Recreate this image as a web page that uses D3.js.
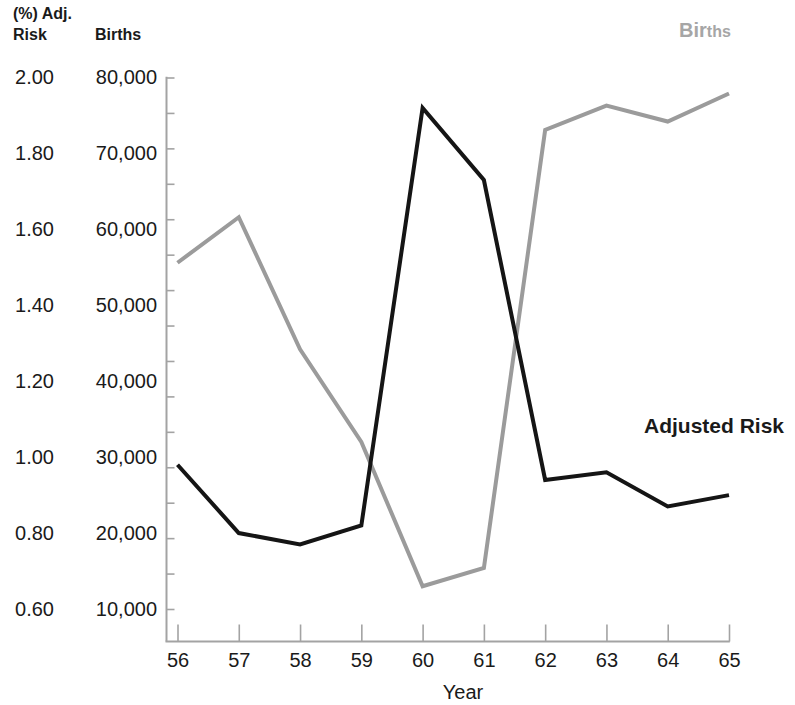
<!DOCTYPE html>
<html>
<head>
<meta charset="utf-8">
<script src="https://cdn.jsdelivr.net/npm/d3@7"></script>
<style>
  html, body { margin: 0; padding: 0; background: #fff; }
  svg { display: block; font-family: "Liberation Sans", Arial, Helvetica, sans-serif; }
</style>
</head>
<body>
<svg id="chart" width="795" height="705"></svg>
<script>
// Years on the x axis (19xx)
const years = [56, 57, 58, 59, 60, 61, 62, 63, 64, 65];
// Number of births per year
const births = [55600, 61600, 44200, 32000, 13000, 15400, 73100, 76300, 74200, 77900];
// Adjusted risk (%) per year
const adjRisk = [0.98, 0.80, 0.77, 0.82, 1.92, 1.73, 0.94, 0.96, 0.87, 0.90];
// Labelled values of the two left-hand scales
const birthTicks = [10000, 20000, 30000, 40000, 50000, 60000, 70000, 80000];
const riskTicks = [0.60, 0.80, 1.00, 1.20, 1.40, 1.60, 1.80, 2.00];

const svg = d3.select("#chart");
const axisColor = "#a3a3a3";
const greyLine = "#9b9b9b";
const blackLine = "#151515";

const axisX = 166.5, axisTop = 77.5, axisBottom = 641.5, axisRight = 729;

const x = d3.scaleLinear().domain([56, 65]).range([177.5, 729]);
const yBirths = d3.scaleLinear().domain([10000, 80000]).range([609, 77.5]);
const yRisk = d3.scaleLinear().domain([0.60, 2.00]).range([609, 77.5]);

// Vertical axis line with inward tick marks (15 equal steps)
const tickMarks = d3.range(16).map(i => 10000 + i * 70000 / 15);
const yMarks = svg.append("g").attr("transform", `translate(${axisX},0)`)
  .call(d3.axisRight(yBirths).tickValues(tickMarks).tickSize(8).tickFormat(""));
yMarks.select(".domain").remove();
yMarks.selectAll(".tick line").attr("stroke", axisColor).attr("stroke-width", 1.6);
svg.append("line")
  .attr("x1", axisX).attr("x2", axisX)
  .attr("y1", axisTop - 0.8).attr("y2", axisBottom)
  .attr("stroke", axisColor).attr("stroke-width", 2);

// Births tick labels
const bAxis = svg.append("g").attr("transform", "translate(157,0)")
  .call(d3.axisLeft(yBirths).tickValues(birthTicks).tickSize(0).tickPadding(0)
    .tickFormat(d3.format(",")));
bAxis.select(".domain").remove();
bAxis.selectAll("text").attr("font-size", 20).attr("fill", "#1a1a1a")
  .attr("font-family", "Liberation Sans, Arial, sans-serif");

// Adjusted risk tick labels
const rAxis = svg.append("g").attr("transform", "translate(54,0)")
  .call(d3.axisLeft(yRisk).tickValues(riskTicks).tickSize(0).tickPadding(0)
    .tickFormat(d3.format(".2f")));
rAxis.select(".domain").remove();
rAxis.selectAll("text").attr("font-size", 20).attr("fill", "#1a1a1a")
  .attr("font-family", "Liberation Sans, Arial, sans-serif");

// Horizontal axis with upward ticks
const xAxis = svg.append("g").attr("transform", `translate(0,${axisBottom})`)
  .call(d3.axisBottom(x).tickValues(years).tickSize(-17).tickPadding(0).tickFormat(d3.format("d")));
xAxis.select(".domain").remove();
xAxis.selectAll(".tick line").attr("stroke", axisColor).attr("stroke-width", 1.6);
xAxis.selectAll(".tick text").attr("y", 11).attr("font-size", 20).attr("fill", "#1a1a1a")
  .attr("font-family", "Liberation Sans, Arial, sans-serif");
svg.append("line")
  .attr("x1", axisX - 1).attr("x2", axisRight + 0.8)
  .attr("y1", axisBottom).attr("y2", axisBottom)
  .attr("stroke", axisColor).attr("stroke-width", 2);

svg.append("text").attr("x", 463).attr("y", 699).attr("text-anchor", "middle")
  .attr("font-size", 20).attr("fill", "#1a1a1a").text("Year");

// Axis headers
const header = svg.append("g").attr("font-weight", "bold").attr("font-size", 16).attr("fill", "#1a1a1a");
header.append("text").attr("x", 13).attr("y", 19).text("(%) Adj.");
header.append("text").attr("x", 13).attr("y", 39.5).text("Risk");
header.append("text").attr("x", 95).attr("y", 39.5).text("Births");

// Data lines
const birthLine = d3.line().x((d, i) => x(years[i])).y(d => yBirths(d));
const riskLine = d3.line().x((d, i) => x(years[i])).y(d => yRisk(d));

svg.append("path").datum(births).attr("d", birthLine)
  .attr("fill", "none").attr("stroke", greyLine).attr("stroke-width", 4);
svg.append("path").datum(adjRisk).attr("d", riskLine)
  .attr("fill", "none").attr("stroke", blackLine).attr("stroke-width", 4);

// Series labels
const bLabel = svg.append("text").attr("x", 679).attr("y", 37)
  .attr("font-weight", "bold").attr("fill", "#a6a6a6");
bLabel.append("tspan").attr("font-size", 20).text("Bir");
bLabel.append("tspan").attr("font-size", 16).text("ths");

svg.append("text").attr("x", 644).attr("y", 433).attr("font-weight", "bold")
  .attr("font-size", 21).attr("fill", "#1a1a1a").text("Adjusted Risk");
</script>
</body>
</html>
